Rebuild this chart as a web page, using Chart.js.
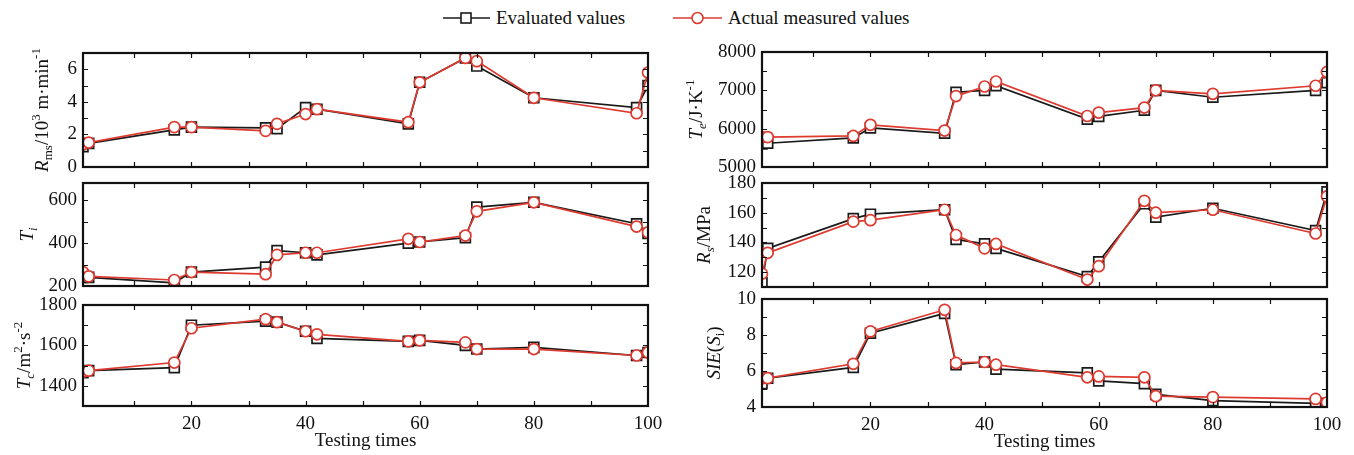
<!DOCTYPE html>
<html>
<head>
<meta charset="utf-8">
<script src="https://cdn.jsdelivr.net/npm/chart.js@4.4.1/dist/chart.umd.min.js"></script>
<style>
    body { margin: 0; background: #fff; width: 1354px; height: 455px; position: relative; overflow: hidden; font-family: "Liberation Serif", serif; color: #111; }
    canvas.panel { position: absolute; }
    .legend-item { position: absolute; top: 7px; display: flex; align-items: center; font-size: 19px; white-space: nowrap; }
    .legend-item svg { margin-right: 6px; }
</style>
</head>
<body>
<div class="legend-item" style="left:443px">
    <svg width="47" height="20"><line x1="0" y1="10" x2="47" y2="10" stroke="#1a1a1a" stroke-width="1.6"/><rect x="18" y="5" width="10" height="10" fill="#fff" stroke="#1a1a1a" stroke-width="1.6"/></svg>Evaluated values
</div>
<div class="legend-item" style="left:673px">
    <svg width="49" height="20"><line x1="0" y1="10" x2="49" y2="10" stroke="#dd3a30" stroke-width="1.6"/><circle cx="24.5" cy="10" r="5.5" fill="#fff" stroke="#dd3a30" stroke-width="1.6"/></svg>Actual measured values
</div>

<canvas class="panel" id="pRms"></canvas>
<canvas class="panel" id="pTi"></canvas>
<canvas class="panel" id="pTc"></canvas>
<canvas class="panel" id="pTe"></canvas>
<canvas class="panel" id="pRs"></canvas>
<canvas class="panel" id="pSie"></canvas>

<script>
// Data
const testTimes = [1, 2, 17, 20, 33, 35, 40, 42, 58, 60, 68, 70, 80, 98, 100];
const xTicks = [20, 40, 60, 80, 100];

const rmsEval   = [1.25, 1.45, 2.28, 2.45, 2.4, 2.35, 3.65, 3.55, 2.65, 5.2, 6.7, 6.2, 4.25, 3.65, 5.0];
const rmsActual = [1.4, 1.5, 2.45, 2.45, 2.22, 2.65, 3.25, 3.55, 2.75, 5.2, 6.7, 6.5, 4.25, 3.3, 5.8];
const rmsTicks  = [0, 2, 4, 6];

const tiEval   = [240, 240, 215, 265, 288, 365, 355, 345, 400, 405, 425, 568, 590, 490, 445];
const tiActual = [265, 245, 228, 265, 255, 345, 355, 355, 420, 405, 435, 548, 590, 477, 450];
const tiTicks  = [200, 400, 600];

const tcEval   = [1465, 1475, 1490, 1700, 1720, 1715, 1670, 1635, 1620, 1625, 1600, 1582, 1590, 1550, 1565];
const tcActual = [1470, 1475, 1515, 1685, 1730, 1715, 1670, 1655, 1620, 1625, 1615, 1582, 1582, 1550, 1565];
const tcTicks  = [1400, 1600, 1800];

const teEval   = [5600, 5620, 5760, 6020, 5880, 6950, 7000, 7120, 6250, 6320, 6480, 7000, 6820, 7000, 7200];
const teActual = [5780, 5780, 5810, 6100, 5950, 6850, 7100, 7230, 6330, 6420, 6550, 7000, 6910, 7120, 7480];
const teTicks  = [5000, 6000, 7000, 8000];

const rsEval   = [113, 136, 156, 159, 162, 142, 139, 136, 117, 127, 166, 157, 163, 148, 174];
const rsActual = [119, 133, 154, 155, 162, 145, 136, 139, 115, 124, 168, 160, 162, 146, 171];
const rsTicks  = [120, 140, 160, 180];

const sieEval   = [5.3, 5.6, 6.2, 8.1, 9.2, 6.35, 6.5, 6.1, 5.9, 5.45, 5.3, 4.7, 4.35, 4.2, 4.2];
const sieActual = [5.6, 5.6, 6.4, 8.2, 9.4, 6.45, 6.5, 6.35, 5.65, 5.7, 5.65, 4.6, 4.55, 4.45, 4.25];
const sieTicks  = [4, 6, 8, 10];

const BLACK = '#1a1a1a';
const RED = '#dd3a30';
const FONT = "'Liberation Serif', 'Times New Roman', serif";

// Rotated y-axis title with italics / sub / superscripts
const richTitle = {
    id: 'richTitle',
    afterDraw(chart, args, opts) {
        if (!opts.parts) return;
        const ctx = chart.ctx;
        const area = chart.chartArea;
        const cy = (area.top + area.bottom) / 2;
        const fontFor = p => `${p.it ? 'italic ' : ''}${p.sub || p.sup ? 13 : 19}px ${FONT}`;
        ctx.save();
        let total = 0;
        const widths = opts.parts.map(p => {
            ctx.font = fontFor(p);
            const w = ctx.measureText(p.t).width;
            total += w;
            return w;
        });
        ctx.translate(opts.x, cy);
        ctx.rotate(-Math.PI / 2);
        ctx.fillStyle = '#111';
        ctx.textBaseline = 'alphabetic';
        let x = -total / 2;
        opts.parts.forEach((p, i) => {
            ctx.font = fontFor(p);
            const dy = p.sub ? 4 : (p.sup ? -8 : 0);
            ctx.fillText(p.t, x, 6 + dy);
            x += widths[i];
        });
        ctx.restore();
    }
};

// Box frame with inward ticks, matlab style
const frameTicks = {
    id: 'frameTicks',
    afterDatasetsDraw(chart, args, opts) {
        const { ctx, chartArea: a, scales } = chart;
        ctx.save();
        ctx.strokeStyle = '#111';
        ctx.lineWidth = 1.2;
        ctx.beginPath();
        for (let v = 10; v < 100; v += 10) {
            const px = Math.round(scales.x.getPixelForValue(v)) + 0.5;
            ctx.moveTo(px, a.bottom); ctx.lineTo(px, a.bottom - 5);
            ctx.moveTo(px, a.top); ctx.lineTo(px, a.top + 5);
        }
        for (let v = opts.minorFrom; v <= scales.y.max + 1e-9; v += opts.minor) {
            const py = Math.round(scales.y.getPixelForValue(v)) + 0.5;
            ctx.moveTo(a.left, py); ctx.lineTo(a.left + 5, py);
            ctx.moveTo(a.right, py); ctx.lineTo(a.right - 5, py);
        }
        ctx.stroke();
        ctx.lineWidth = 2.2;
        ctx.strokeRect(a.left, a.top, a.right - a.left, a.bottom - a.top);
        ctx.restore();
    }
};

function makePanel(id, cfg) {
    const canvas = document.getElementById(id);
    const isBottom = !!cfg.bottom;
    const padTop = 12;
    const xHeight = isBottom ? 48 : 0;
    const padBottom = isBottom ? 0 : 12;
    const w = cfg.width;
    const h = padTop + cfg.plotH + xHeight + padBottom;
    canvas.style.left = cfg.left + 'px';
    canvas.style.top = (cfg.plotTop - padTop) + 'px';
    canvas.width = w; canvas.height = h;
    canvas.style.width = w + 'px'; canvas.style.height = h + 'px';

    const pts = vals => testTimes.map((t, i) => ({ x: t, y: vals[i] }));

    new Chart(canvas, {
        type: 'line',
        data: {
            datasets: [{
                label: 'Actual measured values',
                data: pts(cfg.actual),
                borderColor: RED,
                backgroundColor: '#fff',
                borderWidth: 1.7,
                pointStyle: 'circle',
                pointRadius: 5.5,
                pointBorderWidth: 1.7,
                pointBackgroundColor: '#fff',
                pointBorderColor: RED,
                tension: 0,
                clip: 0,
                order: 0
            }, {
                label: 'Evaluated values',
                data: pts(cfg.evaluated),
                borderColor: BLACK,
                backgroundColor: '#fff',
                borderWidth: 1.7,
                pointStyle: 'rect',
                pointRadius: 7,
                pointBorderWidth: 1.7,
                pointBackgroundColor: '#fff',
                pointBorderColor: BLACK,
                tension: 0,
                clip: 0,
                order: 1
            }]
        },
        options: {
            responsive: false,
            animation: false,
            events: [],
            layout: { padding: { top: padTop, bottom: padBottom, left: 0, right: cfg.padRight } },
            plugins: {
                legend: { display: false },
                tooltip: { enabled: false },
                richTitle: { parts: cfg.title, x: cfg.titleX },
                frameTicks: { minor: cfg.minor, minorFrom: cfg.min }
            },
            scales: {
                x: {
                    type: 'linear',
                    min: 1,
                    max: 100,
                    display: isBottom,
                    grid: { display: false, drawTicks: false },
                    border: { display: false },
                    afterBuildTicks: s => { s.ticks = xTicks.map(v => ({ value: v })); },
                    afterFit: s => { s.height = xHeight; s.paddingLeft = 0; s.paddingRight = 0; },
                    ticks: { color: '#111', padding: 7, maxRotation: 0, callback: v => String(v), font: { family: FONT, size: 19 } },
                    title: { display: isBottom, text: 'Testing times', color: '#111', padding: { top: 0, bottom: 2 }, font: { family: FONT, size: 19 } }
                },
                y: {
                    type: 'linear',
                    min: cfg.min,
                    max: cfg.max,
                    grid: { display: false, drawTicks: false },
                    border: { display: false },
                    afterBuildTicks: s => { s.ticks = cfg.ticks.map(v => ({ value: v })); },
                    afterFit: s => { s.width = cfg.yWidth; s.paddingTop = 0; s.paddingBottom = 0; },
                    ticks: { color: '#111', padding: 6, callback: v => String(v), font: { family: FONT, size: 19 } }
                }
            }
        },
        plugins: [frameTicks, richTitle]
    });
}

const L = { left: 0, width: 672, yWidth: 83, padRight: 24 };
const R = { left: 680, width: 674, yWidth: 82, padRight: 27 };

makePanel('pRms', { ...L, plotTop: 53, plotH: 114, min: 0, max: 7, minor: 1, ticks: rmsTicks,
    evaluated: rmsEval, actual: rmsActual, titleX: 42,
    title: [{ t: 'R', it: true }, { t: 'ms', sub: true }, { t: '/10' }, { t: '3', sup: true }, { t: ' m·min' }, { t: '-1', sup: true }] });
makePanel('pTi', { ...L, plotTop: 183, plotH: 103, min: 200, max: 680, minor: 100, ticks: tiTicks,
    evaluated: tiEval, actual: tiActual, titleX: 27,
    title: [{ t: 'T', it: true }, { t: 'i', it: true, sub: true }] });
makePanel('pTc', { ...L, plotTop: 305, plotH: 101, min: 1300, max: 1800, minor: 100, ticks: tcTicks, bottom: true,
    evaluated: tcEval, actual: tcActual, titleX: 24,
    title: [{ t: 'T', it: true }, { t: 'c', it: true, sub: true }, { t: '/m' }, { t: '2', sup: true }, { t: '·s' }, { t: '-2', sup: true }] });

makePanel('pTe', { ...R, plotTop: 52, plotH: 115, min: 5000, max: 8000, minor: 500, ticks: teTicks,
    evaluated: teEval, actual: teActual, titleX: 16,
    title: [{ t: 'T', it: true }, { t: 'e', it: true, sub: true }, { t: '/J·K' }, { t: '-1', sup: true }] });
makePanel('pRs', { ...R, plotTop: 183, plotH: 104, min: 110, max: 180, minor: 10, ticks: rsTicks,
    evaluated: rsEval, actual: rsActual, titleX: 24,
    title: [{ t: 'R', it: true }, { t: 's', it: true, sub: true }, { t: '/MPa' }] });
makePanel('pSie', { ...R, plotTop: 299, plotH: 108, min: 4, max: 10, minor: 1, ticks: sieTicks, bottom: true,
    evaluated: sieEval, actual: sieActual, titleX: 34,
    title: [{ t: 'SIE', it: true }, { t: '(' }, { t: 'S', it: true }, { t: 'i', sub: true }, { t: ')' }] });
</script>
</body>
</html>
